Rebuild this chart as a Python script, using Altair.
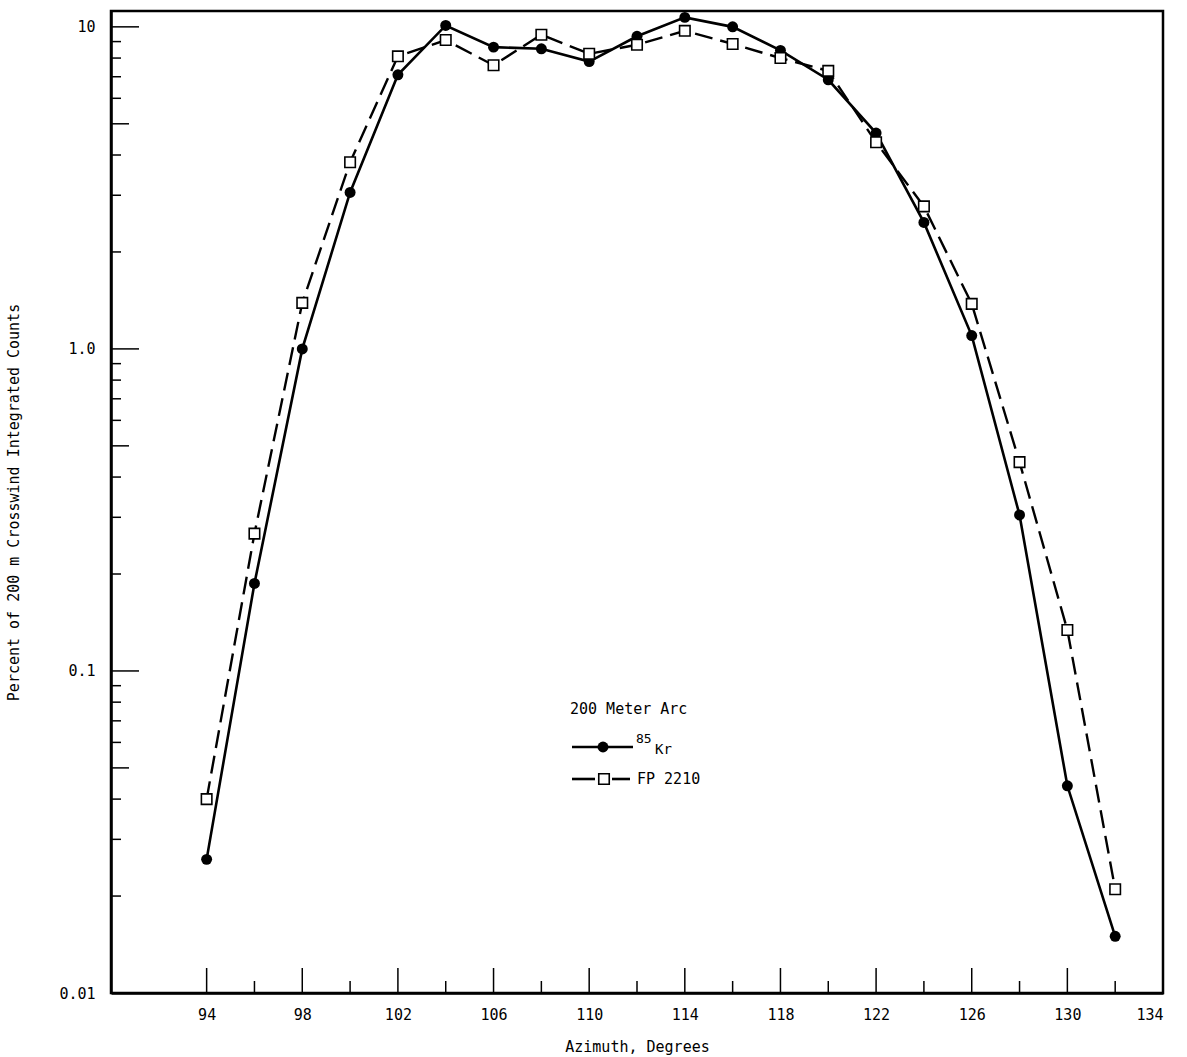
import altair as alt
import pandas as pd

# ---- data ----
azimuth = [94, 96, 98, 100, 102, 104, 106, 108, 110, 112, 114, 116, 118, 120, 122, 124, 126, 128, 130, 132]
kr85 = [0.026, 0.187, 1.0, 3.06, 7.1, 10.1, 8.65, 8.55, 7.8, 9.35, 10.7, 10.0, 8.45, 6.85, 4.68, 2.47, 1.10, 0.305, 0.044, 0.015]
fp2210 = [0.040, 0.267, 1.39, 3.80, 8.1, 9.1, 7.6, 9.45, 8.25, 8.8, 9.72, 8.85, 8.0, 7.3, 4.38, 2.77, 1.38, 0.445, 0.134, 0.021]

x_major_ticks = [94, 98, 102, 106, 110, 114, 118, 122, 126, 130]
x_minor_ticks = [96, 100, 104, 108, 112, 116, 120, 124, 128, 132]
x_label_ticks = [94, 98, 102, 106, 110, 114, 118, 122, 126, 130, 134]
y_label_ticks = [0.01, 0.1, 1, 10]
y_major_ticks = [0.1, 1, 10]
y_mid_ticks = [0.05, 0.5, 5]
y_minor_ticks = [0.02, 0.03, 0.04, 0.06, 0.07, 0.08, 0.09,
                 0.2, 0.3, 0.4, 0.6, 0.7, 0.8, 0.9,
                 2, 3, 4, 6, 7, 8, 9]

W, H = 1052, 982
FONT = "DejaVu Sans Mono"
FS = 15

df_kr = pd.DataFrame({"az": azimuth, "val": kr85})
df_fp = pd.DataFrame({"az": azimuth, "val": fp2210})

xs = alt.Scale(domain=[90, 134], nice=False, zero=False)
ys = alt.Scale(type="log", domain=[0.01, 11.2], nice=False)

x_axis = alt.Axis(
    values=x_label_ticks, title="Azimuth, Degrees", ticks=False, grid=False,
    labelFont=FONT, labelFontSize=FS, labelColor="black", labelPadding=14,
    titleFont=FONT, titleFontSize=FS, titleFontWeight="normal", titleColor="black",
    titleY=53, titleBaseline="middle",
    domainColor="black", domainWidth=2.5,
)
y_axis = alt.Axis(
    values=y_label_ticks, title="Percent of 200 m Crosswind Integrated Counts", ticks=False, grid=False,
    labelFont=FONT, labelFontSize=FS, labelColor="black", labelPadding=16,
    labelExpr="datum.value >= 10 ? '10' : datum.value >= 1 ? '1.0' : datum.value >= 0.1 ? '0.1' : '0.01'",
    titleFont=FONT, titleFontSize=FS, titleFontWeight="normal", titleColor="black",
    titleX=-98, titleY=H / 2, titleAngle=-90, titleBaseline="middle", titleAlign="center",
    domainColor="black", domainWidth=2.5,
)

kr_line = alt.Chart(df_kr).mark_line(color="black", strokeWidth=2.6).encode(
    x=alt.X("az:Q", scale=xs, axis=x_axis),
    y=alt.Y("val:Q", scale=ys, axis=y_axis),
)
kr_pts = alt.Chart(df_kr).mark_point(shape="circle", filled=True, color="black", size=120, opacity=1).encode(
    x=alt.X("az:Q", scale=xs), y=alt.Y("val:Q", scale=ys)
)
fp_line = alt.Chart(df_fp).mark_line(color="black", strokeWidth=2.4, strokeDash=[18, 8]).encode(
    x=alt.X("az:Q", scale=xs), y=alt.Y("val:Q", scale=ys)
)
fp_pts = alt.Chart(df_fp).mark_point(shape="square", filled=True, fill="white", stroke="black",
                                     strokeWidth=1.6, size=110, opacity=1).encode(
    x=alt.X("az:Q", scale=xs), y=alt.Y("val:Q", scale=ys)
)

# inward tick marks
def xticks(vals, length):
    return alt.Chart(pd.DataFrame({"t": vals})).mark_rule(color="black", strokeWidth=1.5).encode(
        x=alt.X("t:Q", scale=xs), y=alt.value(H), y2=alt.value(H - length)
    )

def yticks(vals, length):
    return alt.Chart(pd.DataFrame({"t": vals})).mark_rule(color="black", strokeWidth=1.5).encode(
        y=alt.Y("t:Q", scale=ys), x=alt.value(0), x2=alt.value(length)
    )

ticks = [xticks(x_major_ticks, 25), xticks(x_minor_ticks, 12),
         yticks(y_major_ticks, 28), yticks(y_mid_ticks, 18), yticks(y_minor_ticks, 10)]

# legend (placed in plot pixel coords)
OX, OY = 111, 11
leg = pd.DataFrame({"k": [0]})
def txt(s, x, y, size=FS):
    return alt.Chart(leg).mark_text(text=s, font=FONT, fontSize=size, align="left", baseline="middle",
                                    color="black").encode(x=alt.value(x - OX), y=alt.value(y - OY))
def seg(x1, x2, y):
    return alt.Chart(leg).mark_rule(color="black", strokeWidth=2.6).encode(
        x=alt.value(x1 - OX), x2=alt.value(x2 - OX), y=alt.value(y - OY))

legend_layers = [
    txt("200 Meter Arc", 570, 709),
    seg(572, 633, 747),
    alt.Chart(leg).mark_point(shape="circle", filled=True, color="black", size=120, opacity=1).encode(
        x=alt.value(603 - OX), y=alt.value(747 - OY)),
    txt("85", 636, 739, 13),
    txt("Kr", 655, 750, 14),
    seg(572, 595, 779),
    seg(612, 630, 779),
    alt.Chart(leg).mark_point(shape="square", filled=True, fill="white", stroke="black", strokeWidth=1.6,
                              size=110, opacity=1).encode(x=alt.value(604 - OX), y=alt.value(779 - OY)),
    txt("FP 2210", 637, 779),
]

chart = alt.layer(kr_line, fp_line, *ticks, kr_pts, fp_pts, *legend_layers).properties(
    width=W, height=H,
    autosize=alt.AutoSizeParams(type="none"),
    padding={"left": OX, "top": OY, "right": 1187 - OX - W, "bottom": 1057 - OY - H},
    background="white",
).configure_view(stroke="black", strokeWidth=2.5)

chart.save("out.html", embed_options={"renderer": "svg", "actions": False})
